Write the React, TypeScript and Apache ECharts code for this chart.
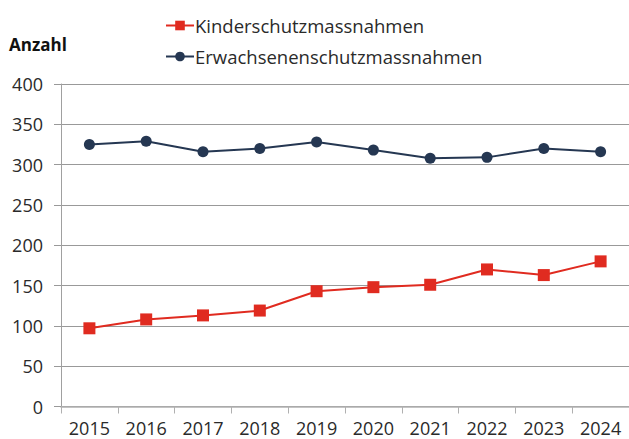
import React, { useEffect, useRef } from "react";
import * as echarts from "echarts";

const years = ["2015", "2016", "2017", "2018", "2019", "2020", "2021", "2022", "2023", "2024"];
const kinder = [97, 108, 113, 119, 143, 148, 151, 170, 163, 180];
const erwachsene = [325, 329, 316, 320, 328, 318, 308, 309, 320, 316];
const seriesNames = ["Kinderschutzmassnahmen", "Erwachsenenschutzmassnahmen"];
const yAxisTitle = "Anzahl";

const RED = "#e02b20";
const NAVY = "#253752";
const FONT = "'Open Sans', 'Noto Sans', sans-serif";
const TXT = "#2a2a2a";

export default function App() {
  const ref = useRef<HTMLDivElement>(null);
  useEffect(() => {
    if (!ref.current) return;
    const chart = echarts.init(ref.current, null, { renderer: "svg" });
    chart.setOption({
      animation: false,
      textStyle: { fontFamily: FONT },
      legend: {
        orient: "vertical",
        left: 160,
        top: 11,
        itemGap: 12,
        itemWidth: 28,
        itemHeight: 12,
        textStyle: { fontSize: 18.5, color: TXT, fontFamily: FONT, padding: [0, 0, 0, -4] },
        data: seriesNames,
      },
      graphic: [
        {
          type: "text",
          left: 9,
          top: 36,
          style: { text: yAxisTitle, fontSize: 17, fontWeight: "bold", fill: "#111", fontFamily: FONT },
        },
      ],
      grid: { left: 61, right: -2, top: 84, bottom: 32.5, containLabel: false },
      xAxis: {
        type: "category",
        data: years,
        boundaryGap: true,
        axisLine: { show: true, lineStyle: { color: "#b0b0b0", width: 1.5 } },
        axisTick: { show: true, interval: 0, length: 7, lineStyle: { color: "#b0b0b0" } },
        axisLabel: { fontSize: 18, color: TXT, margin: 12, fontFamily: FONT, interval: 0 },
        splitLine: { show: false },
      },
      yAxis: {
        type: "value",
        min: 0,
        max: 400,
        interval: 50,
        axisLine: { show: true, lineStyle: { color: "#a0a0a0" } },
        axisTick: { show: true, length: 7, lineStyle: { color: "#999" } },
        axisLabel: { fontSize: 18, color: TXT, margin: 18, fontFamily: FONT },
        splitLine: { show: true, lineStyle: { color: "#999", width: 1 } },
      },
      series: [
        {
          name: seriesNames[0],
          type: "line",
          data: kinder,
          symbol: "rect",
          symbolSize: 12,
          lineStyle: { color: RED, width: 2 },
          itemStyle: { color: RED },
          z: 3,
        },
        {
          name: seriesNames[1],
          type: "line",
          data: erwachsene,
          symbol: "circle",
          symbolSize: 11,
          lineStyle: { color: NAVY, width: 2 },
          itemStyle: { color: NAVY },
          z: 3,
        },
      ],
    });
    return () => chart.dispose();
  }, []);
  return <div ref={ref} style={{ width: 629, height: 439, position: "absolute", left: 0, top: 0 }} />;
}
